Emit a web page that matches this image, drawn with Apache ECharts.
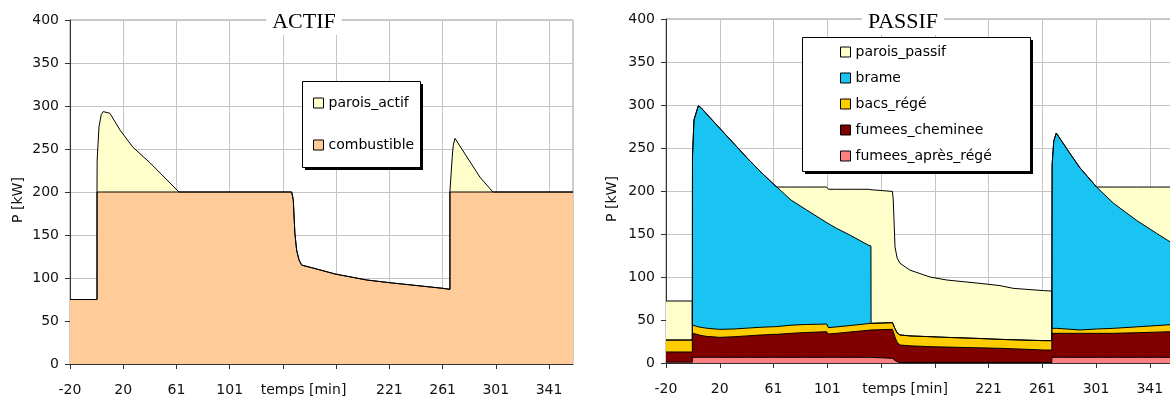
<!DOCTYPE html>
<html>
<head>
<meta charset="utf-8">
<title>ACTIF / PASSIF</title>
<script src="https://cdn.jsdelivr.net/npm/echarts@6.0.0/dist/echarts.min.js"></script>
<style>
  html, body { margin: 0; padding: 0; background: #fff; }
  #chart { width: 1170px; height: 396px; }
</style>
</head>
<body>
<div id="chart"></div>
<script>
// x axis: Excel category labels, one every 40 min (141 and 181 hidden by the axis title)
const xTickValues = [-20, 20, 60, 100, 140, 180, 220, 260, 300, 340];
const xTickLabels = ['-20', '20', '61', '101', '', '', '221', '261', '301', '341'];

// ACTIF (kW)
const actifTime = [-20, 0.3, 0.3, 0.4, 1.8, 3.5, 5, 10, 17.6, 27.3, 40.1, 52.9, 61.9,
  146.6, 147.8, 149, 150.3, 152.1, 154.1, 162.6, 179.1, 202.9, 220.4, 260.2, 265.5,
  265.5, 267, 267.2, 268, 269.3, 278.3, 288, 297.8, 358];
const combustible = [75, 75, 200, 200, 200, 200, 200, 200, 200, 200, 200, 200, 200,
  200, 190.7, 152, 132.5, 121, 115, 111.6, 104.7, 97.7, 94.5, 88, 86.8,
  200, 200, 200, 200, 200, 200, 200, 200, 200];
const paroisActif = [0, 0, 0, 37, 76, 90, 93.5, 91.5, 72, 52, 34, 14, 0,
  0, 0, 0, 0, 0, 0, 0, 0, 0, 0, 0, 0,
  0, 0, 40, 54, 62.4, 40.7, 17.4, 0, 0];

// PASSIF (kW)
const passifTime = [-20, -0.4, -0.4, -0.3, 0.8, 4, 6, 10, 20, 30, 40, 50, 60, 62.5, 73, 84.6,
  99.5, 100.8, 106.9, 116.8, 130.4, 132.5, 132.6, 148.5, 149.1, 150.4, 152, 154.1, 161.5,
  176.4, 188.9, 213.6, 228.5, 238.4, 260.7, 267.1, 267.1, 267.3, 268.5, 270.4, 280, 288,
  300.4, 312.8, 330, 345, 358];
const fumeesApresRege = [1, 1, 6.6, 6.6, 6.6, 6.6, 6.6, 6.6, 6.6, 6.6, 6.6, 6.6, 6.6, 6.6, 6.6, 6.6,
  6.6, 6.6, 6.6, 6.6, 6.6, 6.6, 6.6, 5.4, 5, 3, 1.5, 0.5, 0.5,
  0.5, 0.5, 0.5, 0.5, 0.5, 0.5, 0.5, 6.6, 6.6, 6.6, 6.6, 6.6, 6.6,
  6.6, 6.6, 6.6, 6.6, 6.6];
const fumeesCheminee = [11.8, 11.8, 27.9, 27.9, 27.9, 26.4, 25.4, 24.4, 23.2, 23.9, 24.9, 25.9, 26.7, 26.7, 27.9, 28.9,
  29.8, 27.1, 27.9, 29.4, 31.4, 31.8, 31.8, 33.7, 33, 27, 22.5, 20.4, 19.5,
  18.5, 18, 17.1, 16.6, 16, 14.6, 14.5, 27.9, 27.9, 27.9, 27.9, 27.9, 27.9,
  27.9, 27.9, 28.6, 29.3, 29.9];
const bacsRege = [13.9, 13.9, 9.7, 9.7, 9.5, 9, 9.5, 9.5, 9.3, 9, 9, 9, 8.9, 9, 9.5, 9.3,
  8.9, 7.4, 7.5, 7.5, 7.8, 7.7, 7.7, 7.8, 8, 10, 11, 11.7, 11.5,
  11.6, 11.3, 10.9, 10.4, 10.5, 10.9, 11, 5.8, 5.8, 5.8, 5.8, 4.8, 3.9,
  5, 5.8, 6.8, 7.6, 8.3];
const brame = [0, 0, 0, 195.8, 238.6, 257, 255.5, 249.5, 233.9, 216.5, 198.5, 181.5, 165.8, 162.3, 145.5, 133.2,
  118, 121.3, 114.6, 105.3, 91.4, 89.9, 0, 0, 0, 0, 0, 0, 0,
  0, 0, 0, 0, 0, 0, 0, 0, 189.7, 217.7, 227.1, 205.7, 188.6,
  165.1, 145.7, 124, 107.3, 93.2];
const paroisPassif = [45.4, 45.4, 0, 0, 0, 0, 0, 0, 0, 0, 0, 0, 0, 0, 15.1, 26.6,
  41.3, 39.6, 45.4, 53.2, 64.8, 65.5, 154.4, 152.6, 143.5, 95, 87, 83.4, 76.5,
  69.4, 66.7, 64.1, 62.5, 59.8, 58.2, 57.7, 0, 0, 0, 0, 0, 0,
  0, 18.6, 38.6, 53.8, 66.6];

const font = 'DejaVu Sans';
const textColor = '#111';
const gridColor = '#c4c4c4';

// layers are given bottom -> top; each area is drawn from 0 up to its running total,
// the upper layers first so the lower ones paint over them (same look as Excel stacking)
function stackedSeries(time, layers, gridIndex) {
  let run = time.map(() => 0);
  const tops = layers.map(l => (run = run.map((s, i) => Math.round((s + l.values[i]) * 100) / 100)));
  return layers.map((l, k) => ({
    name: l.name,
    type: 'line',
    xAxisIndex: gridIndex,
    yAxisIndex: gridIndex,
    data: time.map((t, i) => [t, tops[k][i]]),
    color: l.color,
    itemStyle: { color: l.color },
    symbol: 'none',
    silent: true,
    lineStyle: { color: '#000', width: 1 },
    areaStyle: { color: l.color, opacity: 1 }
  })).reverse();
}

// vertical grid lines at the category ticks, kept under the areas
function verticalGrid(gridIndex) {
  return {
    type: 'line', xAxisIndex: gridIndex, yAxisIndex: gridIndex, z: 1,
    data: [[-20, 0]], symbol: 'none', silent: true, lineStyle: { width: 0 },
    markLine: {
      z: 1, silent: true, symbol: ['none', 'none'], label: { show: false },
      lineStyle: { color: gridColor, type: 'solid', width: 1 },
      emphasis: { disabled: true },
      data: xTickValues.filter(v => v > -20).map(v => ({ xAxis: v }))
    }
  };
}

function xAxis(gridIndex, nameShift) {
  return {
    type: 'value', gridIndex: gridIndex, min: -20, max: 358,
    name: 'temps [min]', nameLocation: 'middle', nameGap: 19, nameMoveOverlap: false,
    nameTextStyle: { fontFamily: font, fontSize: 14, color: textColor, padding: [0, nameShift * 2, 0, 0] },
    axisLine: { show: true, onZero: false, lineStyle: { color: '#333' } },
    axisTick: { show: true, length: 5, customValues: xTickValues, lineStyle: { color: '#333' } },
    axisLabel: {
      customValues: xTickValues, margin: 19, fontFamily: font, fontSize: 14, color: textColor,
      formatter: v => xTickLabels[xTickValues.indexOf(v)]
    },
    splitLine: { show: false }
  };
}

function yAxis(gridIndex, nameGap) {
  return {
    type: 'value', gridIndex: gridIndex, min: 0, max: 400, interval: 50,
    name: 'P [kW]', nameLocation: 'middle', nameGap: nameGap, nameMoveOverlap: false,
    nameTextStyle: { fontFamily: font, fontSize: 14, color: textColor, padding: [0, 16, 0, 0] },
    axisLine: { show: true, onZero: false, lineStyle: { color: '#333' } },
    axisTick: { show: true, length: 5, lineStyle: { color: '#333' } },
    axisLabel: { margin: 11, fontFamily: font, fontSize: 14, color: textColor },
    splitLine: { show: true, lineStyle: { color: gridColor } }
  };
}

// legend items; the framed box with its hard black shadow is drawn as graphic below
function legend(names, box, padding, gap) {
  return {
    data: names, orient: 'vertical', left: box[0], top: box[1], padding: padding, itemGap: gap,
    icon: 'rect', itemWidth: 10, itemHeight: 10, selectedMode: false,
    itemStyle: { borderColor: '#000', borderWidth: 1 },
    textStyle: { fontFamily: font, fontSize: 14, color: '#000' }
  };
}

function legendFrame(box) {
  return [
    { type: 'rect', z: 3, silent: true, shape: { x: box[0] + 3, y: box[1] + 3, width: box[2], height: box[3] },
      style: { fill: '#000' } },
    { type: 'rect', z: 3, silent: true, shape: { x: box[0] + 0.5, y: box[1] + 0.5, width: box[2], height: box[3] },
      style: { fill: '#fff', stroke: '#000', lineWidth: 1 } }
  ];
}

function title(text, left) {
  return {
    text: text, left: left, top: 9, textAlign: 'center', padding: [2, 6, 2, 6],
    backgroundColor: '#fff',
    textStyle: { fontFamily: 'Liberation Serif', fontSize: 22, fontWeight: 'normal', color: '#000' }
  };
}

const actifLegendBox = [302, 81, 118, 86];
const passifLegendBox = [802, 37, 228, 134];

const actifSeries = stackedSeries(actifTime, [
  { name: 'combustible', values: combustible, color: '#FFCC99' },
  { name: 'parois_actif', values: paroisActif, color: '#FFFFCC' }
], 0);

const passifSeries = stackedSeries(passifTime, [
  { name: 'fumees_après_régé', values: fumeesApresRege, color: '#FF8080' },
  { name: 'fumees_cheminee', values: fumeesCheminee, color: '#800000' },
  { name: 'bacs_régé', values: bacsRege, color: '#FFCC00' },
  { name: 'brame', values: brame, color: '#19C3F2' },
  { name: 'parois_passif', values: paroisPassif, color: '#FFFFCC' }
], 1);

const chart = echarts.init(document.getElementById('chart'));
chart.setOption({
  animation: false,
  backgroundColor: '#fff',
  title: [title('ACTIF', 298), title('PASSIF', 897)],
  grid: [
    { left: 70, top: 20, width: 503, height: 344, outerBoundsMode: 'none', containLabel: false,
      show: true, backgroundColor: '#fff', borderColor: '#999', borderWidth: 1 },
    { left: 666, top: 19, width: 508, height: 344, outerBoundsMode: 'none', containLabel: false,
      show: true, backgroundColor: '#fff', borderColor: '#999', borderWidth: 1 }
  ],
  xAxis: [xAxis(0, 18), xAxis(1, 15)],
  yAxis: [yAxis(0, 45), yAxis(1, 47)],
  legend: [
    legend(['parois_actif', 'combustible'], actifLegendBox, [15, 6, 15, 11], 28),
    legend(['parois_passif', 'brame', 'bacs_régé', 'fumees_cheminee', 'fumees_après_régé'], passifLegendBox, [8, 36, 8, 38], 12)
  ],
  graphic: { elements: legendFrame(actifLegendBox).concat(legendFrame(passifLegendBox)) },
  series: [verticalGrid(0), verticalGrid(1)].concat(actifSeries, passifSeries)
});
</script>
</body>
</html>
